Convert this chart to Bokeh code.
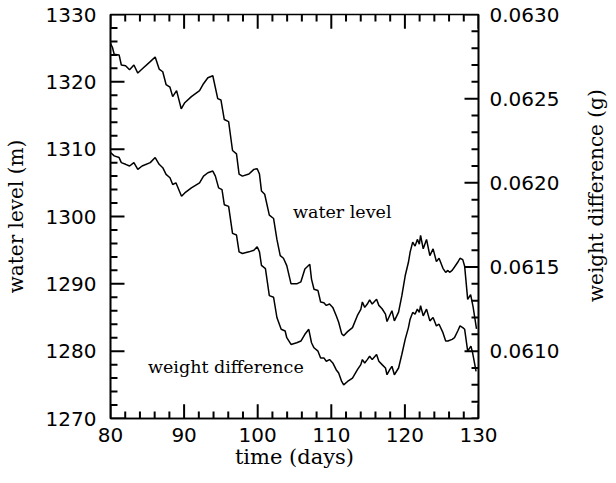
import math
from bokeh.plotting import figure
from bokeh.layouts import row
from bokeh.models import Range1d, FixedTicker, PrintfTickFormatter, LinearAxis
from bokeh.embed import file_html
from bokeh.resources import INLINE
from bokeh.core.properties import value

# ---- data ----
wl_days = [80.0, 80.27, 80.5, 81.17, 81.47, 82.05, 82.59, 83.18, 83.71, 84.29,
           85.40, 86.07, 86.61, 87.10, 87.55, 88.08, 88.45, 88.98, 89.61, 90.09,
           90.99, 92.1, 92.56, 93.23, 93.9, 94.57, 95.01, 95.46, 96.05, 96.58,
           97.12, 97.47, 97.92, 98.81, 99.48, 99.93, 100.24, 100.51, 100.95, 101.58,
           102.16, 102.61, 103.06, 103.5, 103.95, 104.53, 105.3, 105.87, 106.41, 107.08,
           107.31, 107.65, 108.19, 108.55, 108.99, 109.32, 109.76, 110.2, 110.66, 111.0,
           111.41, 111.68, 112.21, 112.88, 113.55, 114.01, 114.22, 114.54, 114.89, 115.21,
           115.56, 116.15, 116.46, 116.9, 117.36, 117.57, 117.94, 118.24, 118.57, 119.14,
           119.58, 120.04, 120.48, 120.71, 121.06, 121.38, 121.69, 121.96, 122.13, 122.49,
           122.94, 123.39, 123.83, 124.28, 124.64, 125.17, 125.54, 125.84, 126.07, 126.42,
           126.74, 127.18, 127.49, 127.86, 128.12, 128.53, 128.93, 129.26, 129.73]
water_level = [1325.7, 1325.1, 1324.1, 1324.0, 1322.5, 1322.4, 1321.8, 1322.5, 1321.3, 1321.9,
               1323.0, 1323.7, 1321.9, 1321.5, 1319.6, 1319.2, 1317.8, 1318.7, 1316.0, 1316.9,
               1317.8, 1318.7, 1319.6, 1320.6, 1320.9, 1317.5, 1317.3, 1314.4, 1314.1, 1309.8,
               1309.3, 1306.3, 1306.0, 1306.3, 1307.0, 1307.1, 1306.3, 1303.8, 1303.3, 1300.2,
               1299.7, 1296.6, 1294.2, 1293.8, 1292.7, 1290.0, 1290.0, 1290.3, 1292.2, 1292.9,
               1290.7, 1289.2, 1289.0, 1287.3, 1287.2, 1286.8, 1287.0, 1286.5, 1285.3, 1284.3,
               1282.6, 1282.3, 1282.9, 1283.5, 1285.3, 1286.2, 1287.3, 1286.5, 1287.0, 1287.6,
               1287.0, 1287.7, 1286.8, 1286.3, 1285.5, 1284.4, 1285.3, 1286.0, 1284.5, 1285.8,
               1288.2, 1291.2, 1293.2, 1294.7, 1296.2, 1295.6, 1296.6, 1295.9, 1297.2, 1295.2,
               1296.6, 1294.2, 1295.2, 1293.3, 1293.8, 1292.3, 1291.7, 1292.0, 1291.7, 1292.0,
               1292.5, 1293.2, 1293.8, 1293.6, 1292.6, 1287.7, 1288.4, 1286.6, 1283.3]

wd_days = [80.0, 80.5, 81.17, 81.47, 82.05, 82.59, 83.18, 83.71, 84.29, 85.40,
           86.07, 86.61, 87.10, 87.55, 88.08, 88.45, 88.89, 89.65, 90.09, 90.99,
           92.1, 92.64, 93.23, 93.9, 94.25, 94.69, 95.15, 95.46, 96.05, 96.58,
           97.12, 97.47, 97.92, 98.81, 99.48, 99.93, 100.24, 100.51, 101.05, 101.58,
           102.16, 102.61, 103.19, 103.73, 103.95, 104.53, 105.3, 105.87, 106.41, 106.94,
           107.31, 107.65, 108.19, 108.55, 108.99, 109.32, 109.76, 110.2, 110.66, 111.0,
           111.41, 111.68, 112.21, 112.88, 113.55, 114.01, 114.22, 114.54, 114.89, 115.21,
           115.56, 116.15, 116.46, 116.9, 117.36, 117.57, 117.94, 118.24, 118.57, 119.14,
           119.58, 120.04, 120.48, 120.71, 121.06, 121.38, 121.69, 121.96, 122.13, 122.49,
           122.94, 123.39, 123.83, 124.28, 124.64, 125.17, 125.54, 125.84, 126.42, 126.74,
           127.18, 127.49, 127.86, 128.12, 128.53, 128.97, 129.2, 129.67]
weight_diff = [0.06218, 0.06216, 0.06215, 0.06212, 0.06211, 0.06210, 0.06212, 0.06208, 0.06210, 0.06212,
               0.06215, 0.06211, 0.06209, 0.06205, 0.06203, 0.06199, 0.06200, 0.06192, 0.06194, 0.06197,
               0.06200, 0.06204, 0.06206, 0.06207, 0.06204, 0.06197, 0.06196, 0.06187, 0.06186, 0.06170,
               0.06169, 0.06159, 0.06158, 0.06159, 0.06160, 0.06162, 0.06159, 0.06151, 0.06149, 0.06133,
               0.06132, 0.06120, 0.06113, 0.06112, 0.06108, 0.06104, 0.06105, 0.06106, 0.06110, 0.06113,
               0.06105, 0.06102, 0.06100, 0.06096, 0.06096, 0.06094, 0.06095, 0.06093, 0.06089, 0.06087,
               0.06082, 0.06080, 0.06082, 0.06084, 0.06089, 0.06092, 0.06095, 0.06093, 0.06095, 0.06097,
               0.06095, 0.06098, 0.06094, 0.06092, 0.06090, 0.06086, 0.06089, 0.06091, 0.06086, 0.06090,
               0.06098, 0.06107, 0.06114, 0.06119, 0.06123, 0.06122, 0.06125, 0.06123, 0.06127, 0.06121,
               0.06125, 0.06118, 0.06120, 0.06115, 0.06116, 0.06111, 0.06106, 0.06106, 0.06107, 0.06108,
               0.06112, 0.06115, 0.06114, 0.06113, 0.06100, 0.06103, 0.06099, 0.06088]

x_ticks = [80.0, 90.0, 100.0, 110.0, 120.0, 130.0]
wl_ticks = [1270.0, 1280.0, 1290.0, 1300.0, 1310.0, 1320.0, 1330.0]
wd_ticks = [0.0610, 0.0615, 0.0620, 0.0625, 0.0630]

x_minor = [float(d) for d in range(80, 131, 2) if d % 10 != 0]
wl_minor = [float(v) for v in range(1270, 1331, 2) if v % 10 != 0]
wd_minor = [round(0.0606 + i * 0.0001, 4) for i in range(25) if i % 5 != 4]

X_RANGE = (80.0, 130.0)
WL_RANGE = (1270.0, 1330.0)
WD_RANGE = (0.0606, 0.0630)

TICK_FONT = "DejaVu Sans"
LABEL_FONT = "DejaVu Serif"
TICK_W = 2.0
# tick lengths in each axis' units (about 14 px major, 7 px minor)
X_MAJ, X_MIN = 1.9, 0.95
WL_MAJ, WL_MIN = 2.1, 1.05

p = figure(width=575, height=475,
           x_range=Range1d(*X_RANGE), y_range=Range1d(*WL_RANGE),
           output_backend="svg", toolbar_location=None,
           min_border_left=105, min_border_right=97,
           min_border_top=14, min_border_bottom=57)
p.extra_y_ranges = {"wd": Range1d(*WD_RANGE)}

p.xgrid.visible = False
p.ygrid.visible = False
p.outline_line_color = "black"
p.outline_line_width = 1.6
p.background_fill_color = "white"
p.border_fill_color = "white"

# ---- inward tick marks on the four sides (multi_line, one renderer per side) ----
left_xs = [[X_RANGE[0], X_RANGE[0] + X_MAJ] for _ in wl_ticks] + \
          [[X_RANGE[0], X_RANGE[0] + X_MIN] for _ in wl_minor]
left_ys = [[v, v] for v in wl_ticks] + [[v, v] for v in wl_minor]
p.multi_line(xs=left_xs, ys=left_ys, line_color="black", line_width=TICK_W)

right_xs = [[X_RANGE[1], X_RANGE[1] - X_MAJ] for _ in wd_ticks] + \
           [[X_RANGE[1], X_RANGE[1] - X_MIN] for _ in wd_minor]
right_ys = [[v, v] for v in wd_ticks] + [[v, v] for v in wd_minor]
p.multi_line(xs=right_xs, ys=right_ys, line_color="black", line_width=TICK_W,
             y_range_name="wd")

bot_xs = [[v, v] for v in x_ticks] + [[v, v] for v in x_minor]
bot_ys = [[WL_RANGE[0], WL_RANGE[0] + WL_MAJ] for _ in x_ticks] + \
         [[WL_RANGE[0], WL_RANGE[0] + WL_MIN] for _ in x_minor]
p.multi_line(xs=bot_xs, ys=bot_ys, line_color="black", line_width=TICK_W)

top_ys = [[WL_RANGE[1], WL_RANGE[1] - WL_MAJ] for _ in x_ticks] + \
         [[WL_RANGE[1], WL_RANGE[1] - WL_MIN] for _ in x_minor]
p.multi_line(xs=bot_xs, ys=top_ys, line_color="black", line_width=TICK_W)

# ---- curves ----
p.line(wl_days, water_level, line_color="black", line_width=1.5)
p.line(wd_days, weight_diff, line_color="black", line_width=1.5, y_range_name="wd")

def style_axis(ax, ticks, font_size="20px"):
    ax.ticker = FixedTicker(ticks=ticks)
    ax.major_tick_in = 0
    ax.major_tick_out = 0
    ax.minor_tick_in = 0
    ax.minor_tick_out = 0
    ax.major_tick_line_color = None
    ax.minor_tick_line_color = None
    ax.axis_line_color = "black"
    ax.axis_line_width = 1.6
    ax.major_label_text_font = TICK_FONT
    ax.major_label_text_font_size = font_size
    ax.major_label_text_color = "black"
    ax.axis_label_text_font = LABEL_FONT
    ax.axis_label_text_font_style = "normal"
    ax.axis_label_text_font_size = "20px"
    ax.axis_label_text_color = "black"

xb = p.xaxis[0]
style_axis(xb, x_ticks)
xb.axis_label = "time (days)"
xb.axis_label_text_font_size = "21px"
xb.major_label_standoff = 9
xb.axis_label_standoff = 0

yl = p.yaxis[0]
style_axis(yl, wl_ticks)
yl.axis_label = "water level (m)"
yl.major_label_standoff = 14
yl.axis_label_standoff = 15

yr = LinearAxis(y_range_name="wd")
style_axis(yr, wd_ticks)
yr.formatter = PrintfTickFormatter(format="%.4f")
yr.major_label_standoff = 11
p.add_layout(yr, "right")

p.text(x=[104.8], y=[1300.6], text=["water level"], text_font=value(LABEL_FONT),
       text_font_size="17.5px", text_baseline="middle", text_align="left", text_color="black")
p.text(x=[85.1], y=[1277.6], text=["weight difference"], text_font=value(LABEL_FONT),
       text_font_size="17.5px", text_baseline="middle", text_align="left", text_color="black")

# narrow strip on the right carrying the right-hand axis title (reads bottom to top)
q = figure(width=33, height=475, x_range=Range1d(0, 33), y_range=Range1d(0, 475),
           output_backend="svg", toolbar_location=None, min_border=0,
           x_axis_type=None, y_axis_type=None)
q.outline_line_color = None
q.xgrid.visible = False
q.ygrid.visible = False
q.background_fill_color = "white"
q.border_fill_color = "white"
q.text(x=[20.5], y=[262], text=["weight difference (g)"], angle=math.pi / 2,
       text_font=value(LABEL_FONT), text_font_size="20px", text_color="black",
       text_align="center", text_baseline="middle")

layout = row(p, q, spacing=0)
open("out.html", "w").write(file_html(layout, INLINE))
